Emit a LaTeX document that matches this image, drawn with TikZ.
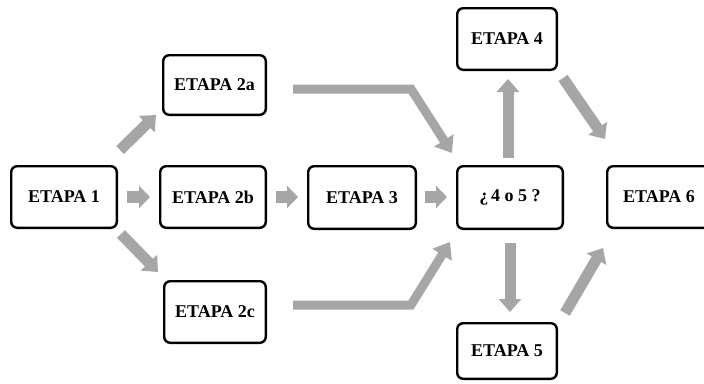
\documentclass[tikz,border=0pt]{standalone}
\usepackage{fontspec}
\setmainfont{Liberation Serif}
\usetikzlibrary{arrows.meta}
\definecolor{arrgray}{HTML}{A6A6A6}
\tikzset{
  stage/.style={draw=black, line width=2.4pt, rounded corners=6pt, fill=white,
    inner sep=0pt, align=center, font=\fontsize{18}{21}\selectfont\bfseries},
  bigarrow/.style={draw=arrgray, line width=11pt, line join=miter,
    -{Triangle[length=13pt, width=22pt]}, arrgray},
  smallarrow/.style={draw=arrgray, line width=12pt,
    -{Triangle[length=11pt, width=22pt]}, arrgray},
  bentarrow/.style={draw=arrgray, line width=9pt, line join=miter,
    -{Triangle[length=15pt, width=22pt]}, arrgray},
}
\begin{document}
\begin{tikzpicture}[x=1pt, y=-1pt]
\useasboundingbox (0,0) rectangle (704,383);
% boxes
\node[stage, minimum width=105.6pt, minimum height=61.6pt] (e1)  at (64,197)   {ETAPA 1};
\node[stage, minimum width=102.6pt, minimum height=59.6pt] (e2a) at (214.5,85)  {ETAPA 2a};
\node[stage, minimum width=105.6pt, minimum height=61.6pt] (e2b) at (213,197)  {ETAPA 2b};
\node[stage, minimum width=101.6pt, minimum height=61.6pt] (e2c) at (215,312)  {ETAPA 2c};
\node[stage, minimum width=107.6pt, minimum height=62.6pt] (e3)  at (362,197.5){ETAPA 3};
\node[stage, minimum width=105.6pt, minimum height=62.6pt] (q)   at (510,197.5){¿\,4 o 5 ?};
\node[stage, minimum width=103.6pt, minimum height=61.6pt] (e6)  at (659,197)  {ETAPA 6};
\node[stage, minimum width=99.6pt,  minimum height=61.6pt] (e4)  at (507,39)   {ETAPA 4};
\node[stage, minimum width=99.6pt,  minimum height=55.6pt] (e5)  at (507,351)  {ETAPA 5};
% arrow end points
\coordinate (a1s) at (127,197);  \coordinate (a1e) at (150,197);
\coordinate (a2s) at (276,197);  \coordinate (a2e) at (298,197);
\coordinate (a3s) at (425,197);  \coordinate (a3e) at (447,197);
\coordinate (a4s) at (120,150);  \coordinate (a4e) at (156,115);
\coordinate (a5s) at (121,234);  \coordinate (a5e) at (158,272);
\coordinate (a6s) at (293,89);   \coordinate (a6m) at (411,89);  \coordinate (a6e) at (452,153);
\coordinate (a7s) at (293,305);  \coordinate (a7m) at (411,305); \coordinate (a7e) at (450,242);
\coordinate (a8s) at (508,158);  \coordinate (a8e) at (508,79);
\coordinate (a9s) at (510,243);  \coordinate (a9e) at (510,312);
\coordinate (a10s) at (563,78);  \coordinate (a10e) at (605,139);
\coordinate (a11s) at (565,313); \coordinate (a11e) at (603,248);
% arrows
\draw[smallarrow] (a1s) -- (a1e);
\draw[smallarrow] (a2s) -- (a2e);
\draw[smallarrow] (a3s) -- (a3e);
\draw[bigarrow] (a4s) -- (a4e);
\draw[bigarrow] (a5s) -- (a5e);
\draw[bentarrow] (a6s) -- (a6m) -- (a6e);
\draw[bentarrow] (a7s) -- (a7m) -- (a7e);
\draw[bigarrow] (a8s) -- (a8e);
\draw[bigarrow] (a9s) -- (a9e);
\draw[bigarrow] (a10s) -- (a10e);
\draw[bigarrow] (a11s) -- (a11e);
\end{tikzpicture}
\end{document}
